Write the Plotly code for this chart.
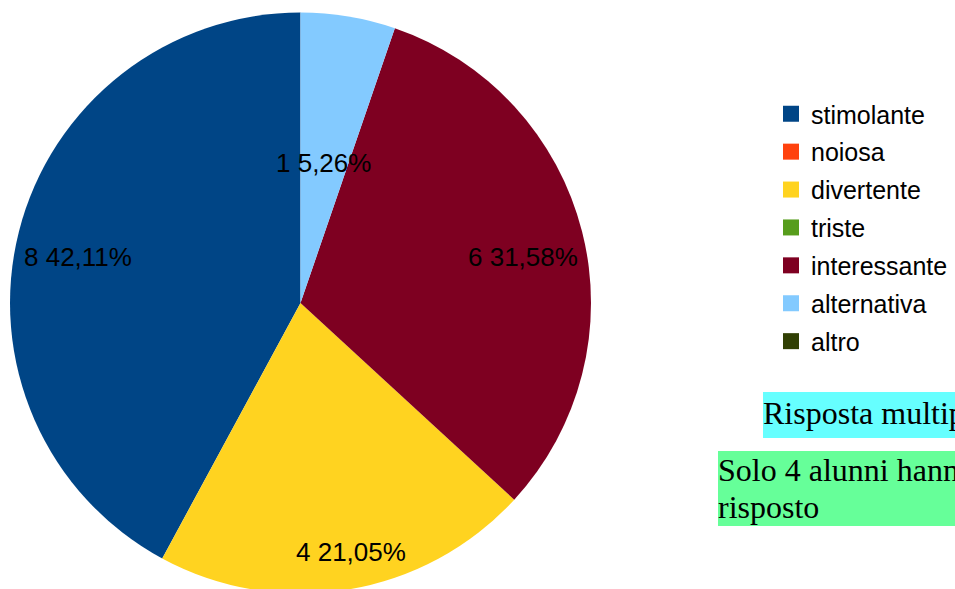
import math
import plotly.graph_objects as go

# Survey answers
categories = ["stimolante", "noiosa", "divertente", "triste", "interessante", "alternativa", "altro"]
counts = [8, 0, 4, 0, 6, 1, 0]
colors = ["#004586", "#ff420e", "#ffd320", "#579d1c", "#7e0021", "#83caff", "#314004"]

# Label placement per slice: fraction of radius, plus small pixel nudges
label_radius = [0.79, 0, 0.87, 0, 0.79, 0.49, 0]
label_dx = [0, 0, 9, 0, 0, 0, 0]
label_dy = [10, 0, 0, 0, 10, 0, 0]

W, H = 955, 606
PIE_LEFT, PIE_RIGHT = 10, 591


def px(x):
    return x / W


def py(y):
    return 1 - y / H


total = sum(counts)

fig = go.Figure()
# Counter-clockwise pie whose first slice starts at 12 o'clock
fig.add_trace(go.Pie(
    labels=categories,
    values=counts,
    marker=dict(colors=colors, line=dict(width=0)),
    sort=False,
    direction="counterclockwise",
    rotation=-360 * counts[0] / total,
    textinfo="none",
    hoverinfo="label+value+percent",
    domain=dict(x=[px(PIE_LEFT), px(PIE_RIGHT)], y=[0, 1]),
    showlegend=False,
))

# Legend entries (one group per category so they can be spaced out)
for name, c in zip(categories, colors):
    fig.add_trace(go.Scatter(
        x=[None], y=[None], mode="markers", name=name, legendgroup=name,
        marker=dict(symbol="square", size=16, color=c, line=dict(width=0)),
        showlegend=True, hoverinfo="skip",
    ))

# Value / percentage labels at each slice's mid angle
cx = (PIE_LEFT + PIE_RIGHT) / 2
cy = H / 2
R = (PIE_RIGHT - PIE_LEFT) / 2
annotations = []
cum = 0.0
for name, v, rf, dx, dy in zip(categories, counts, label_radius, label_dx, label_dy):
    frac = v / total
    if v > 0:
        a = 2 * math.pi * (cum + frac / 2)  # counter-clockwise from 12 o'clock
        x = cx - rf * R * math.sin(a) + dx
        y = cy - rf * R * math.cos(a) + dy
        pct = f"{frac * 100:.2f}".replace(".", ",")
        annotations.append(dict(
            x=px(x), y=py(y), xref="paper", yref="paper",
            text=f"{v} {pct}%", showarrow=False,
            xanchor="center", yanchor="middle",
            font=dict(family="Liberation Sans", size=26, color="#000000"),
        ))
    cum += frac

# Note boxes
note_font = dict(family="Liberation Serif", size=32, color="#000000")
shapes = [
    dict(type="rect", xref="paper", yref="paper",
         x0=px(763), x1=px(975), y0=py(438), y1=py(392),
         fillcolor="#66ffff", line=dict(width=0), layer="below"),
    dict(type="rect", xref="paper", yref="paper",
         x0=px(718), x1=px(975), y0=py(526), y1=py(451),
         fillcolor="#66ff99", line=dict(width=0), layer="below"),
]
for text, x, y in [("Risposta multipla", 761, 413),
                   ("Solo 4 alunni hanno", 716, 470),
                   ("risposto", 716, 507)]:
    annotations.append(dict(
        x=px(x), y=py(y), xref="paper", yref="paper", text=text,
        showarrow=False, xanchor="left", yanchor="middle", font=note_font,
    ))

fig.update_layout(
    width=W, height=H,
    margin=dict(l=0, r=0, t=0, b=0),
    paper_bgcolor="#ffffff",
    plot_bgcolor="#ffffff",
    xaxis=dict(visible=False),
    yaxis=dict(visible=False),
    annotations=annotations,
    shapes=shapes,
    legend=dict(
        x=px(771), y=py(91), xanchor="left", yanchor="top",
        font=dict(family="Liberation Sans", size=25, color="#000000"),
        bgcolor="rgba(0,0,0,0)", traceorder="grouped", tracegroupgap=2.4,
        itemsizing="trace",
    ),
)

fig.write_html("out.html", post_script="document.body.style.overflow='hidden';")
